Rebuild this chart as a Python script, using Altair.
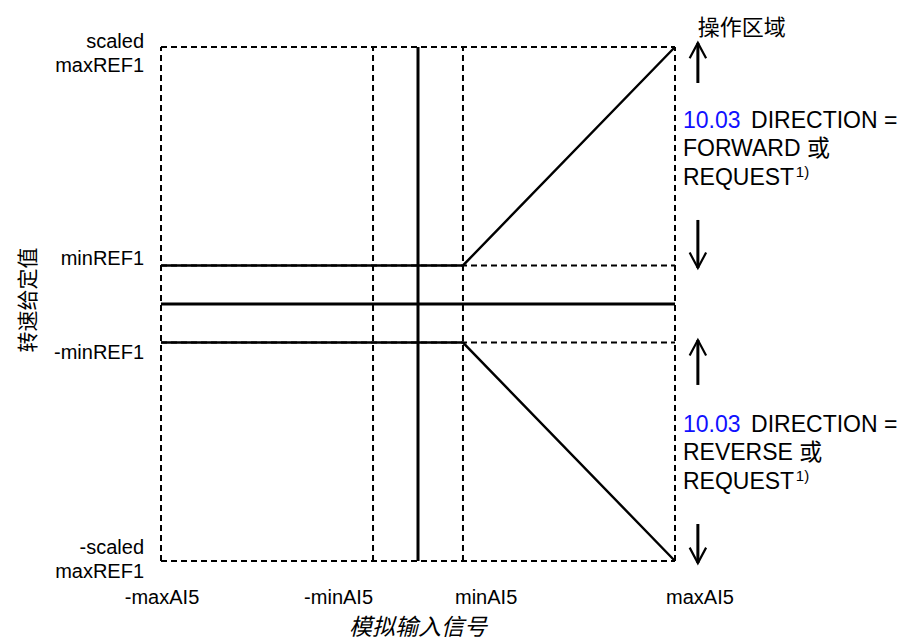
import altair as alt
import pandas as pd

# ---- chart values -------------------------------------------------------
# analog-input breakpoints (x axis) and speed-reference levels (y axis)
ai_names = ["-maxAI5", "-minAI5", "minAI5", "maxAI5"]
ai_values = [-10.0, -1.75, 1.75, 10.0]
ref_names = ["scaled", "maxREF1", "minREF1", "-minREF1", "-scaled", "maxREF1"]
ref_values = [10.0, 1.5, -1.5, -10.0]

# forward / reverse characteristic curves
fwd_x = [-10.0, 1.75, 10.0]
fwd_y = [1.5, 1.5, 10.0]
rev_x = [-10.0, 1.75, 10.0]
rev_y = [-1.5, -1.5, -10.0]

# operating-region arrows: (tail, tip)
arrow_tail = [8.6, 3.27, -3.15, -8.56]
arrow_tip = [10.16, 1.40, -1.40, -10.08]

x_title = "模拟输入信号"
y_title = "转速给定值"
region_title = "操作区域"
par_id = "10.03"
fwd_lines = ["DIRECTION =", "FORWARD 或", "REQUEST"]
rev_lines = ["DIRECTION =", "REVERSE 或", "REQUEST"]
footnote = "1)"

# ---- layout (annotation anchors, data units) -----------------------------
LAT = "'Liberation Sans', Arial, 'Noto Sans CJK SC', sans-serif"
CJK = "'Noto Sans CJK SC', 'Liberation Sans', sans-serif"
ref_label_x = -10.66
ref_label_y = [10.19, 9.28, 1.75, -1.91, -9.49, -10.41]
ai_label_y = -11.44
ai_label_x = [-9.96, -1.75, 1.44, 9.65]
ai_label_align = ["center", "right", "left", "left"]
arrow_x = 10.89
text_x_id = 10.31
text_x_rest = 12.96
fwd_line_y = [7.12, 6.03, 4.92]
rev_line_y = [-4.69, -5.80, -6.93]

xs = alt.Scale(domain=[-10, 10], nice=False, zero=False)
ys = alt.Scale(domain=[-10, 10], nice=False, zero=False)
X = lambda f: alt.X(f, type="quantitative", scale=xs, axis=None)
Y = lambda f: alt.Y(f, type="quantitative", scale=ys, axis=None)

# dashed guide lines
dash_rows = []
for v in ref_values:
    dash_rows.append(dict(x=-10, x2=10, y=v, y2=v))
for v in ai_values:
    dash_rows.append(dict(x=v, x2=v, y=-10, y2=10))
dashed = alt.Chart(pd.DataFrame(dash_rows)).mark_rule(
    strokeDash=[6, 4], strokeWidth=2, color="black"
).encode(x=X("x"), x2="x2", y=Y("y"), y2="y2")

# solid zero axes
axes_rows = [dict(x=-10, x2=10, y=0, y2=0), dict(x=0, x2=0, y=-10, y2=10)]
axes = alt.Chart(pd.DataFrame(axes_rows)).mark_rule(
    strokeWidth=3, color="black"
).encode(x=X("x"), x2="x2", y=Y("y"), y2="y2")

# characteristic curves
curve_rows = []
for i, (xx, yy) in enumerate(zip(fwd_x, fwd_y)):
    curve_rows.append(dict(c="fwd", o=i, x=xx, y=yy))
for i, (xx, yy) in enumerate(zip(rev_x, rev_y)):
    curve_rows.append(dict(c="rev", o=i, x=xx, y=yy))
curves = alt.Chart(pd.DataFrame(curve_rows)).mark_line(
    strokeWidth=2.4, color="black"
).encode(x=X("x"), y=Y("y"), detail="c:N", order="o:Q")

# arrows
shaft_rows = [dict(x=arrow_x, y=t, y2=p) for t, p in zip(arrow_tail, arrow_tip)]
shafts = alt.Chart(pd.DataFrame(shaft_rows)).mark_rule(
    strokeWidth=3, color="black"
).encode(x=X("x"), y=Y("y"), y2="y2")
head_rows = []
hw, hl = 0.32, 0.6
for k, (t, p) in enumerate(zip(arrow_tail, arrow_tip)):
    d = 1 if p > t else -1
    head_rows += [
        dict(a=k, o=0, x=arrow_x - hw, y=p - d * hl),
        dict(a=k, o=1, x=arrow_x, y=p),
        dict(a=k, o=2, x=arrow_x + hw, y=p - d * hl),
    ]
heads = alt.Chart(pd.DataFrame(head_rows)).mark_line(
    strokeWidth=2.2, color="black", strokeJoin="miter"
).encode(x=X("x"), y=Y("y"), detail="a:N", order="o:Q")

# tick-like labels
ref_lab = alt.Chart(pd.DataFrame(dict(t=ref_names, y=ref_label_y, x=[ref_label_x] * 6))).mark_text(
    align="right", baseline="middle", font=LAT, fontSize=20, color="black"
).encode(x=X("x"), y=Y("y"), text="t:N")

ai_rows = pd.DataFrame(dict(t=ai_names, x=ai_label_x, y=[ai_label_y] * 4, al=ai_label_align))
ai_labs = []
for al in ["center", "right", "left"]:
    ai_labs.append(
        alt.Chart(ai_rows[ai_rows.al == al]).mark_text(
            align=al, baseline="middle", font=LAT, fontSize=20, color="black"
        ).encode(x=X("x"), y=Y("y"), text="t:N")
    )

# titles
xt = alt.Chart(pd.DataFrame(dict(t=[x_title], x=[0.0], y=[-12.62]))).mark_text(
    align="center", baseline="middle", font=CJK, fontSize=23, fontStyle="italic", color="black"
).encode(x=X("x"), y=Y("y"), text="t:N")
yt = alt.Chart(pd.DataFrame(dict(t=[y_title], x=[-15.15], y=[0.16]))).mark_text(
    align="center", baseline="middle", font=CJK, fontSize=21, angle=270, color="black"
).encode(x=X("x"), y=Y("y"), text="t:N")
rt = alt.Chart(pd.DataFrame(dict(t=[region_title], x=[10.89], y=[10.72]))).mark_text(
    align="left", baseline="middle", font=CJK, fontSize=22, color="black"
).encode(x=X("x"), y=Y("y"), text="t:N")

# direction texts
ids = alt.Chart(pd.DataFrame(dict(t=[par_id, par_id], x=[text_x_id] * 2, y=[fwd_line_y[0], rev_line_y[0]]))).mark_text(
    align="left", baseline="middle", font=LAT, fontSize=23, color="#1010ff"
).encode(x=X("x"), y=Y("y"), text="t:N")
rest_rows = [dict(t=fwd_lines[0], x=text_x_rest, y=fwd_line_y[0]),
             dict(t=fwd_lines[1], x=text_x_id, y=fwd_line_y[1]),
             dict(t=fwd_lines[2], x=text_x_id, y=fwd_line_y[2]),
             dict(t=rev_lines[0], x=text_x_rest, y=rev_line_y[0]),
             dict(t=rev_lines[1], x=text_x_id, y=rev_line_y[1]),
             dict(t=rev_lines[2], x=text_x_id, y=rev_line_y[2])]
rest = alt.Chart(pd.DataFrame(rest_rows)).mark_text(
    align="left", baseline="middle", font=LAT, fontSize=23, color="black"
).encode(x=X("x"), y=Y("y"), text="t:N")
fn = alt.Chart(pd.DataFrame(dict(t=[footnote] * 2, x=[14.7] * 2, y=[fwd_line_y[2] + 0.22, rev_line_y[2] + 0.22]))).mark_text(
    align="left", baseline="middle", font=LAT, fontSize=15, color="black"
).encode(x=X("x"), y=Y("y"), text="t:N")

chart = alt.layer(
    dashed, axes, curves, shafts, heads, ref_lab, *ai_labs, xt, yt, rt, ids, rest, fn
).properties(
    width=514, height=514,
    autosize=alt.AutoSizeParams(type="none"),
    padding={"left": 153, "top": 39, "right": 224, "bottom": 84},
    background="white",
).configure_view(stroke=None)

chart.save("out.html", embed_options={"renderer": "svg", "actions": False})
